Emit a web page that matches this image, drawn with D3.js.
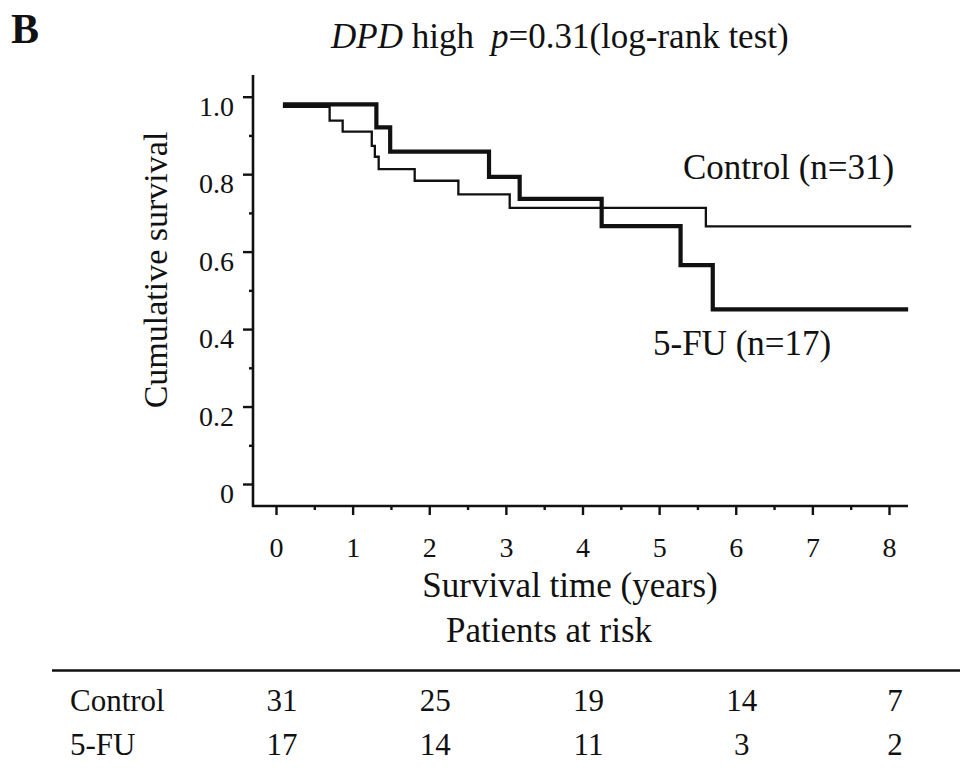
<!DOCTYPE html>
<html>
<head>
<meta charset="utf-8">
<script src="https://cdn.jsdelivr.net/npm/d3@7"></script>
<style>
  html, body { margin: 0; padding: 0; background: #fff; }
  svg text, svg tspan { font-family: "Liberation Serif", "Times New Roman", serif !important; fill: #111; }
</style>
</head>
<body>
<svg id="km" width="960" height="774" font-family="Liberation Serif"></svg>
<script>
// Kaplan-Meier curves (time in years, cumulative survival)
const controlTimes = [0.09, 0.70, 0.87, 1.25, 1.29, 1.34, 1.81, 2.38, 3.05, 5.61, 8.29];
const controlSurv = [0.974, 0.938, 0.910, 0.873, 0.845, 0.813, 0.783, 0.748, 0.713, 0.665, 0.665];

const fuTimes = [0.09, 1.31, 1.49, 2.78, 3.18, 4.25, 5.28, 5.70, 8.25];
const fuSurv = [0.980, 0.921, 0.858, 0.793, 0.736, 0.666, 0.565, 0.451, 0.451];

const xTicks = [0, 1, 2, 3, 4, 5, 6, 7, 8];
const xMinorTicks = [0.5, 1.5, 2.5, 3.5, 4.5, 5.5, 6.5, 7.5];
const yTicks = [0, 0.2, 0.4, 0.6, 0.8, 1.0];
const yMinorTicks = [0.1, 0.3, 0.5, 0.7, 0.9];
const yTickLabels = ["0", "0.2", "0.4", "0.6", "0.8", "1.0"];

// patients at risk table
const riskTimes = [0, 2, 4, 6, 8];
const riskGroups = ["Control", "5-FU"];
const riskControl = [31, 25, 19, 14, 7];
const riskFU = [17, 14, 11, 3, 2];

const svg = d3.select("#km");

const x = d3.scaleLinear().domain([0, 8]).range([276, 889]);
const y = d3.scaleLinear().domain([0, 1]).range([484, 96.7]);

const axisX = 253;
const axisY = 506;

svg.append("rect").attr("width", 960).attr("height", 774).attr("fill", "#fff");

// panel letter + title
svg.append("text")
  .attr("x", 11).attr("y", 43)
  .attr("font-size", 42).attr("font-weight", "bold")
  .text("B");

const title = svg.append("text")
  .attr("x", 331).attr("y", 48)
  .attr("font-size", 35);
title.append("tspan").attr("font-style", "italic").text("DPD");
title.append("tspan").text(" high");
title.append("tspan").attr("dx", 17).attr("font-style", "italic").text("p");
title.append("tspan").text("=0.31(log-rank test)");

// axis lines
svg.append("line")
  .attr("x1", axisX).attr("x2", axisX)
  .attr("y1", 75).attr("y2", axisY + 1)
  .attr("stroke", "#111").attr("stroke-width", 2.6);

svg.append("line")
  .attr("x1", axisX - 1).attr("x2", 908)
  .attr("y1", axisY).attr("y2", axisY)
  .attr("stroke", "#111").attr("stroke-width", 2.6);

// x axis
const gx = svg.append("g")
  .attr("transform", `translate(0,${axisY})`)
  .call(d3.axisBottom(x).tickValues(xTicks).tickSize(9).tickFormat(d3.format("d")));

svg.append("g")
  .attr("transform", `translate(0,${axisY})`)
  .call(d3.axisBottom(x).tickValues(xMinorTicks).tickSize(4).tickFormat(""));

// y axis
const gy = svg.append("g")
  .attr("transform", `translate(${axisX},0)`)
  .call(d3.axisLeft(y).tickValues(yTicks).tickSize(10).tickFormat((d, i) => yTickLabels[i]));

svg.append("g")
  .attr("transform", `translate(${axisX},0)`)
  .call(d3.axisLeft(y).tickValues(yMinorTicks).tickSize(4).tickFormat(""));

svg.selectAll(".domain").remove();
svg.selectAll("g").attr("font-family", null).attr("font-size", null);
svg.selectAll(".tick line").attr("stroke", "#111").attr("stroke-width", 2.4);

gx.selectAll(".tick text")
  .attr("y", 51).attr("dy", 0)
  .attr("font-size", 28)
  .attr("fill", null);

gy.selectAll(".tick text")
  .attr("x", -19).attr("y", 18.5).attr("dy", 0)
  .attr("font-size", 28)
  .attr("fill", null);

// axis titles
svg.append("text")
  .attr("transform", "translate(167,270) rotate(-90)")
  .attr("text-anchor", "middle")
  .attr("font-size", 34)
  .text("Cumulative survival");

svg.append("text")
  .attr("x", 570).attr("y", 597)
  .attr("text-anchor", "middle")
  .attr("font-size", 35)
  .text("Survival time (years)");

svg.append("text")
  .attr("x", 549).attr("y", 642)
  .attr("text-anchor", "middle")
  .attr("font-size", 35)
  .text("Patients at risk");

// curves
const line = d3.line()
  .x(d => x(d[0]))
  .y(d => y(d[1]))
  .curve(d3.curveStepAfter);

const controlData = d3.zip(controlTimes, controlSurv);
const fuData = d3.zip(fuTimes, fuSurv);

svg.append("path")
  .datum(controlData)
  .attr("d", line)
  .attr("fill", "none")
  .attr("stroke", "#111")
  .attr("stroke-width", 2.3);

svg.append("path")
  .datum(fuData)
  .attr("d", line)
  .attr("fill", "none")
  .attr("stroke", "#111")
  .attr("stroke-width", 4.2);

// curve labels
svg.append("text")
  .attr("x", 683).attr("y", 179)
  .attr("font-size", 35)
  .text("Control (n=31)");

svg.append("text")
  .attr("x", 653).attr("y", 355)
  .attr("font-size", 35)
  .text("5-FU (n=17)");

// risk table
svg.append("line")
  .attr("x1", 52).attr("x2", 960)
  .attr("y1", 670.5).attr("y2", 670.5)
  .attr("stroke", "#111").attr("stroke-width", 2.6);

const rowY = [711, 755];
const riskRows = [riskControl, riskFU];

riskGroups.forEach((g, i) => {
  svg.append("text")
    .attr("x", 70).attr("y", rowY[i])
    .attr("font-size", 31)
    .text(g);

  svg.append("g")
    .selectAll("text")
    .data(riskRows[i])
    .join("text")
    .attr("x", (d, j) => x(riskTimes[j]) + 6)
    .attr("y", rowY[i])
    .attr("text-anchor", "middle")
    .attr("font-size", 31)
    .text(d => d);
});
</script>
</body>
</html>
